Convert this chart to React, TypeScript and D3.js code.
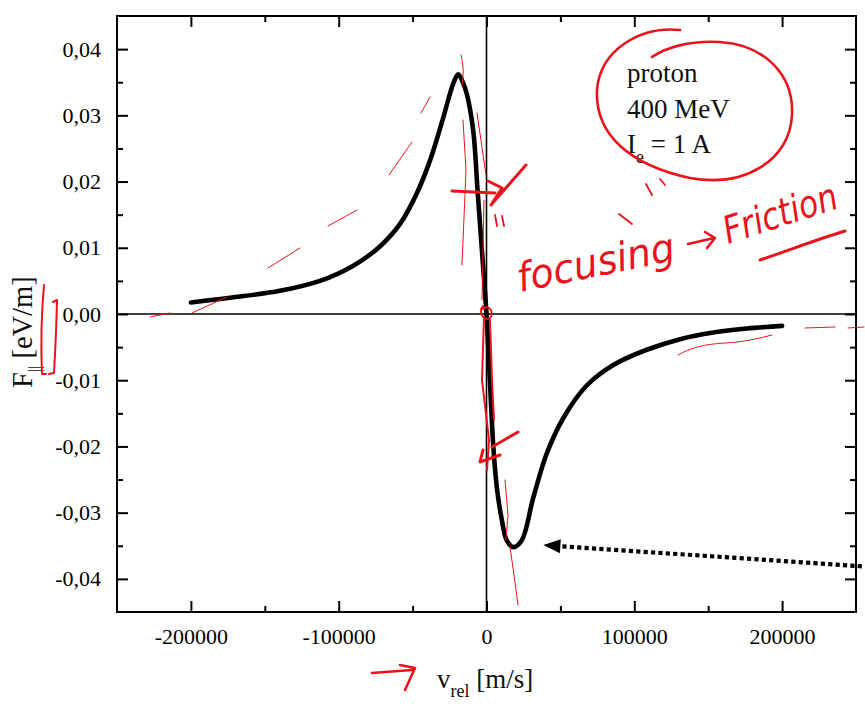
import React from 'react';
import * as d3 from 'd3';

// friction force curve
const vRel = [
  -200000, -173600, -139800, -112700, -90100, -72100, -58500, -47200, -38200, -29200,
  -22500, -19100, -15700, -13400, -9000, -6000, -3000, 0, 2400, 4600, 6900, 10300,
  13700, 18100, 23800, 31700, 40700, 52000, 67800, 85800, 108400, 131000, 153500, 176100, 200000,
];
const force = [
  0.00175, 0.00245, 0.0035, 0.005, 0.0073, 0.0102, 0.0136, 0.0182, 0.0232, 0.0297,
  0.0348, 0.0362, 0.0348, 0.0333, 0.0277, 0.0185, 0.0093, 0, -0.0105, -0.02, -0.026, -0.031,
  -0.0342, -0.0352, -0.0342, -0.0277, -0.0211, -0.0157, -0.0108, -0.0077, -0.0054, -0.0038, -0.0028, -0.0022, -0.0018,
];

const xMajor = [-200000, -100000, 0, 100000, 200000];
const xMinor = [-150000, -50000, 50000, 150000];
const yMajor = [-0.04, -0.03, -0.02, -0.01, 0, 0.01, 0.02, 0.03, 0.04];
const yMinor = [-0.035, -0.025, -0.015, -0.005, 0.005, 0.015, 0.025, 0.035];

const infoLines = ['proton', '400 MeV'];

// dotted pointer to the minimum, in data units
const pointerFrom = [254000, -0.0381];
const pointerTo = [38500, -0.0349];

const fmtY = (v: number) => (v < -1e-9 ? '-' : '') + Math.abs(v).toFixed(2).replace('.', ',');
const fmtX = (v: number) => (v < 0 ? '-' : '') + Math.abs(v);
const blank = () => '';

const serif = 'Liberation Serif';

const drawAxis = (axis: any) => (node: SVGGElement | null) => {
  if (!node) return;
  const g = d3.select(node);
  g.call(axis);
  g.select('.domain').remove();
  g.attr('font-size', 22).attr('font-family', serif);
  g.selectAll('line').attr('stroke-width', 2);
};

const App = () => {
  const Width = 865;
  const Height = 707;
  const margin = { top: 16, right: 9, bottom: 95, left: 117 };

  const x = d3.scaleLinear().domain([-250000, 250000]).range([margin.left, Width - margin.right]);
  const y = d3.scaleLinear().domain([-0.045, 0.045]).range([Height - margin.bottom, margin.top]);

  const pts = vRel.map((v, i) => [v, force[i]] as [number, number]);
  const line = d3
    .line<[number, number]>()
    .x((d) => x(d[0]))
    .y((d) => y(d[1]))
    .curve(d3.curveCatmullRom.alpha(0.5));

  // pointer arrow geometry
  const x0 = x(pointerFrom[0]);
  const y0 = y(pointerFrom[1]);
  const x1 = x(pointerTo[0]);
  const y1 = y(pointerTo[1]);
  const ang = Math.atan2(y1 - y0, x1 - x0);
  const headLen = 17;
  const headW = 7;
  const bx = x1 - headLen * Math.cos(ang);
  const by = y1 - headLen * Math.sin(ang);
  const head = [
    [x1, y1],
    [bx + headW * Math.sin(ang), by - headW * Math.cos(ang)],
    [bx - headW * Math.sin(ang), by + headW * Math.cos(ang)],
  ]
    .map((p) => p.join(','))
    .join(' ');

  const left = margin.left;
  const right = Width - margin.right;
  const top = margin.top;
  const bottom = Height - margin.bottom;

  const red = '#e8141b';

  return (
    <svg width={Width} height={Height} style={{ position: 'absolute', left: 0, top: 0, background: '#fff' }}>
      <rect x={0} y={0} width={Width} height={Height} fill="#fff" />

      {/* zero lines */}
      <line x1={left} x2={right} y1={y(0)} y2={y(0)} stroke="#000" strokeWidth={1.6} />
      <line x1={x(0)} x2={x(0)} y1={top} y2={bottom} stroke="#000" strokeWidth={1.6} />

      {/* ticks, all four sides pointing inward */}
      <g transform={`translate(${left},0)`} ref={drawAxis(d3.axisLeft(y).tickValues(yMajor).tickSize(-11).tickPadding(16).tickFormat(fmtY as any))} />
      <g transform={`translate(${left},0)`} ref={drawAxis(d3.axisLeft(y).tickValues(yMinor).tickSize(-6).tickFormat(blank))} />
      <g transform={`translate(${right},0)`} ref={drawAxis(d3.axisRight(y).tickValues(yMajor).tickSize(-11).tickFormat(blank))} />
      <g transform={`translate(${right},0)`} ref={drawAxis(d3.axisRight(y).tickValues(yMinor).tickSize(-6).tickFormat(blank))} />
      <g transform={`translate(0,${bottom})`} ref={drawAxis(d3.axisBottom(x).tickValues(xMajor).tickSize(-11).tickPadding(16).tickFormat(fmtX as any))} />
      <g transform={`translate(0,${bottom})`} ref={drawAxis(d3.axisBottom(x).tickValues(xMinor).tickSize(-6).tickFormat(blank))} />
      <g transform={`translate(0,${top})`} ref={drawAxis(d3.axisTop(x).tickValues(xMajor).tickSize(-11).tickFormat(blank))} />
      <g transform={`translate(0,${top})`} ref={drawAxis(d3.axisTop(x).tickValues(xMinor).tickSize(-6).tickFormat(blank))} />

      <rect x={left} y={top} width={right - left} height={bottom - top} fill="none" stroke="#000" strokeWidth={2} />

      {/* force curve */}
      <path d={line(pts) || ''} fill="none" stroke="#000" strokeWidth={4.6} strokeLinejoin="round" strokeLinecap="round" />

      {/* dotted pointer */}
      <line x1={x0} y1={y0} x2={bx} y2={by} stroke="#000" strokeWidth={4.2} strokeDasharray="4.2 3.2" />
      <polygon points={head} fill="#000" />

      {/* info box */}
      <g fontFamily={serif} fontSize={27} fill="#111">
        {infoLines.map((t, i) => (
          <text key={t} x={627} y={82 + i * 36}>
            {t}
          </text>
        ))}
        <text x={627} y={153}>
          I<tspan fontSize={18} dy={10}>e</tspan>
          <tspan dy={-10}> = 1 A</tspan>
        </text>
      </g>

      {/* axis titles */}
      <text x={437} y={688} fontFamily={serif} fontSize={27} fill="#111">
        v<tspan fontSize={18} dy={9}>rel</tspan>
        <tspan dy={-9}> [m/s]</tspan>
      </text>
      <text transform="translate(32,388) rotate(-90)" fontFamily={serif} fontSize={28.5} fill="#111">
        F<tspan fontSize={16} dy={8}>||</tspan>
        <tspan dy={-8}> [eV/m]</tspan>
      </text>

      {/* red handwritten annotations */}
      <g fill="none" stroke={red} strokeLinecap="round" strokeLinejoin="round">
        <path d="M 680 30 C 640 26, 600 50, 597 90 C 595 135, 630 165, 690 178 C 745 188, 790 160, 792 115 C 794 75, 765 45, 720 42 C 690 40, 665 48, 652 57" strokeWidth={2.6} />
        <path d="M 150 317 L 170 313 M 192 313 L 227 297 M 268 268 L 300 248 M 328 226 L 357 210 M 389 175 L 412 142 M 421 113 L 430 97" strokeWidth={1} />
        <path d="M 461 55 Q 465 70 462 85 M 463 120 L 466 170 L 462 265 M 477 113 L 486 175 M 484 200 L 482 300" strokeWidth={1} />
        <path d="M 452 191 L 495 193 M 488 181 L 502 188 L 491 205 L 526 165" strokeWidth={3} />
        <path d="M 495 215 L 497 226 M 502 216 L 504 226 M 646 184 L 652 195 M 660 179 L 665 185 M 619 214 L 632 224" strokeWidth={1.8} />
        <path d="M 483 306 C 478 312, 484 322, 490 318 C 495 313, 488 303, 483 309 M 484 318 L 482 380 L 489 440 L 487 470 M 490 320 L 492 380 L 494 420" strokeWidth={2} />
        <path d="M 505 480 L 508 515 L 506 540 M 510 547 L 514 575 L 518 605" strokeWidth={1} />
        <path d="M 518 432 L 492 447 M 500 455 L 480 462 L 483 450" strokeWidth={3} />
        <path d="M 678 355 C 690 348, 705 344, 725 343 C 745 342, 760 338, 772 335" strokeWidth={1} />
        <path d="M 805 328 L 835 327 M 848 328 L 864 327" strokeWidth={1} />
        <path d="M 44 285 Q 40 330 42 374 L 46 374 M 53 302 L 57 300 Q 56 340 54 373 L 49 374" strokeWidth={2} />
        <path d="M 372 673 L 412 670 M 400 665 L 415 668 L 405 690" strokeWidth={2.6} />
        <path d="M 760 260 C 790 250, 815 240, 845 231" strokeWidth={3} />
        <path d="M 688 244 L 714 238 M 705 232 L 715 238 L 707 248" strokeWidth={2.6} />
      </g>
      <g fill={red} fontFamily="DejaVu Sans" fontStyle="italic">
        <text x={520} y={292} fontSize={40} textLength={160} lengthAdjust="spacingAndGlyphs" transform="rotate(-11.5,520,292)">
          focusing
        </text>
        <text x={728} y={244} fontSize={38} textLength={118} lengthAdjust="spacingAndGlyphs" transform="rotate(-18,728,244)">
          Friction
        </text>
      </g>
    </svg>
  );
};

export default App;
